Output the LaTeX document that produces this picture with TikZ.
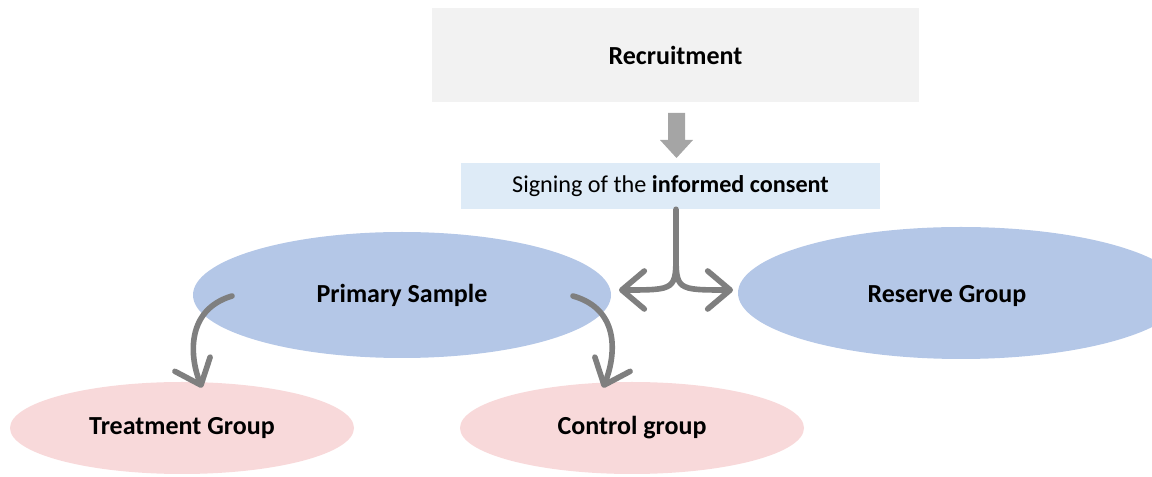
\documentclass[tikz,border=0pt]{standalone}
\usepackage{fontspec}
\setmainfont{Carlito}
\usepackage{xcolor}
\usetikzlibrary{shapes.geometric, arrows.meta}

\definecolor{boxgrey}{HTML}{F2F2F2}
\definecolor{consentblue}{HTML}{DEEBF7}
\definecolor{sampleblue}{HTML}{B4C7E7}
\definecolor{grouppink}{HTML}{F8D9DA}
\definecolor{arrowgrey}{HTML}{7F7F7F}
\definecolor{blockgrey}{HTML}{A5A5A5}

\tikzset{
  label text/.style={font=\fontsize{18.5}{22}\selectfont\bfseries},
  blue oval/.style={ellipse, fill=sampleblue, inner sep=0pt, label text},
  pink oval/.style={ellipse, fill=grouppink, inner sep=0pt, label text},
  flow/.style={draw=arrowgrey, line width=4pt, line cap=round,
    -{Straight Barb[length=16pt, width=27pt, line cap=round, line join=round]}}
}

\begin{document}
\begin{tikzpicture}[x=0.025cm, y=-0.025cm]

\useasboundingbox (0,0) rectangle (1152,477);

\begin{scope}
\clip (0,0) rectangle (1152,477);
\node[fill=boxgrey, minimum width=487*0.025cm, minimum height=94*0.025cm, label text] (recruit) at (675.5,55) {Recruitment};
\node[fill=consentblue, minimum width=419*0.025cm, minimum height=46*0.025cm, font=\fontsize{17.2}{21}\selectfont] (consent) at (670.5,186) {Signing of the \textbf{informed consent}};

\node[blue oval, minimum width=418*0.025cm, minimum height=126*0.025cm] (primary) at (402,295) {Primary Sample};
\node[blue oval, minimum width=446*0.025cm, minimum height=132*0.025cm] (reserve) at (961,293) {};
\node[label text] at (947,296) {Reserve Group};

\node[pink oval, minimum width=344*0.025cm, minimum height=92*0.025cm] (treat) at (182,428) {Treatment Group};
\node[pink oval, minimum width=344*0.025cm, minimum height=92*0.025cm] (control) at (632,428) {Control group};
\end{scope}

% block arrow between the two boxes
\fill[blockgrey] (668,113) -- (685,113) -- (685,140) -- (693,140) -- (676.5,158) -- (660,140) -- (668,140) -- cycle;

% split towards the two samples
\coordinate (fork) at (676,252);
\coordinate (toprimary) at (619,290);
\coordinate (toreserve) at (733,290);
\draw[flow] (consent.south -| fork) -- (fork) .. controls (676,290) .. (toprimary);
\draw[flow] (fork) .. controls (676,290) .. (toreserve);

% primary sample split
\coordinate (ltreat) at (232,296);
\coordinate (lcontrol) at (573,296);
\draw[flow] (ltreat) .. controls (185,310) and (190,358) .. ([xshift=20*0.025cm, yshift=-6*0.025cm]treat.north);
\draw[flow] (lcontrol) .. controls (622,310) and (615,358) .. ([xshift=-29*0.025cm, yshift=-6*0.025cm]control.north);

\end{tikzpicture}
\end{document}
